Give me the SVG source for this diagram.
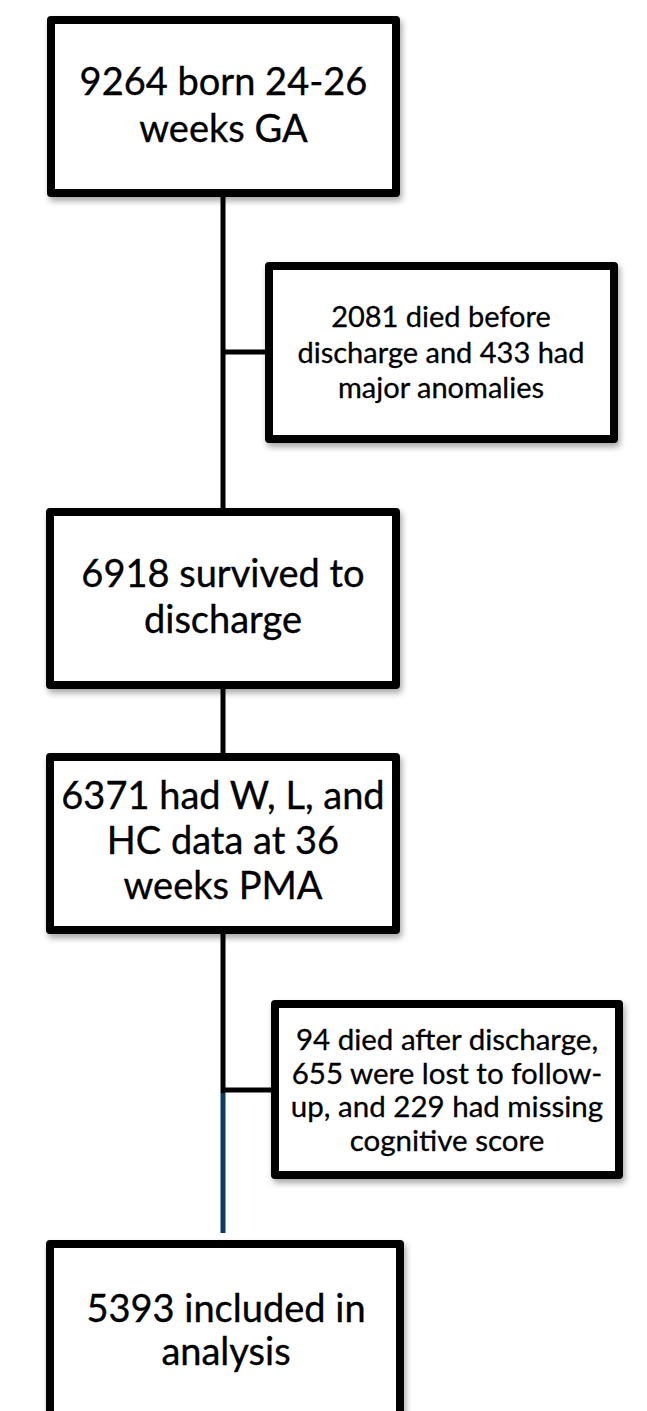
<svg xmlns="http://www.w3.org/2000/svg" width="647" height="1411" viewBox="0 0 647 1411">
<defs>
<filter id="sh" x="-10%" y="-10%" width="125%" height="130%">
<feDropShadow dx="2" dy="4" stdDeviation="3" flood-color="#000" flood-opacity="0.35"/>
</filter>
<style>
.box{fill:#fff;stroke:#000;stroke-width:8;stroke-linejoin:round;filter:url(#sh)}
.big{font-family:Lato,"Open Sans",sans-serif;font-size:38px;fill:#000;stroke:#000;stroke-width:0.35;text-anchor:middle}
.small{font-family:Lato,"Open Sans",sans-serif;font-size:29px;fill:#000;stroke:#000;stroke-width:0.3;text-anchor:middle}
.ln{stroke:#000;stroke-width:5;fill:none}
.blue{stroke:#0d3b66;stroke-width:5;fill:none}
</style>
</defs>
<rect width="647" height="1411" fill="#fff"/>
<g id="connectors">
<line class="ln" x1="223" y1="195" x2="223" y2="510"/>
<line class="ln" x1="223" y1="352" x2="267" y2="352"/>
<line class="ln" x1="223" y1="687" x2="223" y2="755"/>
<line class="ln" x1="223" y1="932" x2="223" y2="1093"/>
<line class="ln" x1="223" y1="1090" x2="273" y2="1090"/>
<line class="blue" x1="223" y1="1093" x2="223" y2="1233"/>
</g>
<g id="n1">
<rect class="box" x="51" y="20" width="345" height="173"/>
<text class="big" x="223.5" y="95">9264 born 24-26</text>
<text class="big" x="223.5" y="142">weeks GA</text>
</g>
<g id="n2">
<rect class="box" x="269" y="266" width="345" height="173"/>
<text class="small" x="441" y="327">2081 died before</text>
<text class="small" x="441" y="362.5">discharge and 433 had</text>
<text class="small" x="441" y="398">major anomalies</text>
</g>
<g id="n3">
<rect class="box" x="50" y="512" width="346" height="173"/>
<text class="big" x="223" y="587">6918 survived to</text>
<text class="big" x="223" y="633">discharge</text>
</g>
<g id="n4">
<rect class="box" x="50" y="757" width="346" height="173"/>
<text class="big" x="223" y="809">6371 had W, L, and</text>
<text class="big" x="223" y="854">HC data at 36</text>
<text class="big" x="223" y="899">weeks PMA</text>
</g>
<g id="n5">
<rect class="box" x="275" y="1004" width="344" height="171"/>
<text class="small" x="447" y="1050" style="font-size:29.5px">94 died after discharge,</text>
<text class="small" x="447" y="1083.5" style="font-size:29.5px">655 were lost to follow-</text>
<text class="small" x="447" y="1117" style="font-size:29.5px">up, and 229 had missing</text>
<text class="small" x="447" y="1150.5" style="font-size:29.5px">cognitive score</text>
</g>
<g id="n6">
<rect class="box" x="50" y="1244" width="350" height="220"/>
<text class="big" x="226" y="1322">5393 included in</text>
<text class="big" x="226" y="1365">analysis</text>
</g>
</svg>
